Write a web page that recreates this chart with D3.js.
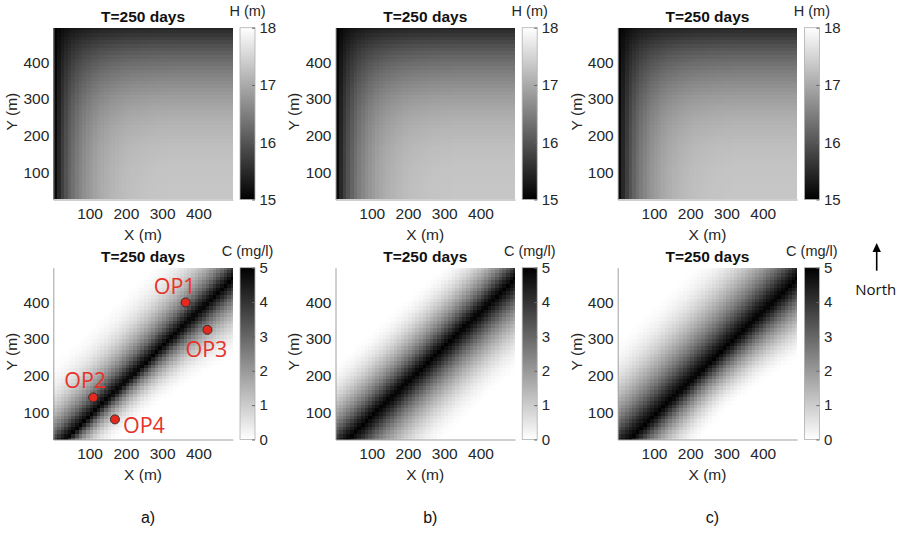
<!DOCTYPE html>
<html>
<head>
<meta charset="utf-8">
<script src="https://cdn.jsdelivr.net/npm/d3@7"></script>
<style>
  body { margin: 0; background: #fff; }
  text { font-family: "Liberation Sans", Arial, sans-serif; }
</style>
</head>
<body>
<svg id="chart" width="905" height="533"></svg>
<script>
const panelLabels = ["a)", "b)", "c)"];
const titleText = "T=250 days";
const xTicks = [100, 200, 300, 400];
const yTicks = [100, 200, 300, 400];
const hTicks = [15, 16, 17, 18];
const cTicks = [0, 1, 2, 3, 4, 5];
const xDomain = [0, 495];
const yDomain = [25, 495];
const hDomain = [15, 18];
const cDomain = [0, 5];
const cell = 10;

// head read along the bottom row, x = 5 ... 495 m
const hBottom = [15.12, 15.47, 15.75, 15.98, 16.17, 16.33, 16.47, 16.58, 16.68, 16.77,
  16.84, 16.91, 16.97, 17.02, 17.06, 17.1, 17.13, 17.16, 17.19, 17.21,
  17.23, 17.25, 17.26, 17.27, 17.28, 17.29, 17.3, 17.31, 17.31, 17.32,
  17.32, 17.32, 17.33, 17.33, 17.33, 17.33, 17.33, 17.33, 17.33, 17.33,
  17.33, 17.33, 17.33, 17.33, 17.33, 17.33, 17.33, 17.33, 17.33, 17.33];
// head read along the right column, y = 495 ... 25 m (top to bottom)
const hRight = [15.45, 15.55, 15.65, 15.75, 15.85, 15.95, 16.04, 16.12, 16.2, 16.27,
  16.34, 16.41, 16.47, 16.53, 16.59, 16.65, 16.7, 16.75, 16.8, 16.85,
  16.89, 16.93, 16.97, 17.01, 17.04, 17.07, 17.1, 17.13, 17.15, 17.17,
  17.19, 17.21, 17.23, 17.25, 17.26, 17.27, 17.28, 17.29, 17.3, 17.31,
  17.31, 17.32, 17.32, 17.33, 17.33, 17.33, 17.33, 17.33];
const hCorner = 17.33;

// plume core: where it leaves the bottom edge and the right edge
const plumeFrom = [33, 25];
const plumeTo = [495, 465];
// stations along the core (0 = bottom-left, 1 = top-right), half widths in m
const stations = [0, 0.2, 0.4, 0.6, 0.8, 1];
const upperWidthA = [175, 175, 175, 178, 180, 182];
const lowerWidthA = [95, 100, 108, 130, 165, 190];
const upperWidthB = [175, 172, 168, 165, 160, 160];
const lowerWidthB = [182, 182, 182, 182, 185, 190];
const upperWidthC = [210, 215, 218, 218, 218, 218];
const lowerWidthC = [130, 135, 125, 140, 165, 185];
// concentration across the plume, from the core (0) to the edge (1) in tenths
const profileA = [5, 4.1, 3.0, 2.2, 1.55, 1.05, 0.65, 0.37, 0.18, 0.06, 0];
const profileB = [5, 4.3, 3.4, 2.6, 1.95, 1.4, 0.92, 0.55, 0.27, 0.09, 0];
const profileC = [5, 4.3, 3.4, 2.6, 1.95, 1.4, 0.92, 0.55, 0.27, 0.09, 0];

const obsNames = ["OP1", "OP2", "OP3", "OP4"];
const obsX = [365, 110, 425, 170];
const obsY = [400, 140, 325, 80];
// label offsets in px from each point
const obsDx = [-11, -8, -1, 29];
const obsDy = [-16, -17, 19, 6];

// layout
const colX = [53.3, 335.5, 617.7];
const rowY = [27.7, 267.7];
const plotW = 179.5, plotH = 171.8;
const cbGap = 186.7, cbW = 15;
const tickColor = "#262626";
const axisColor = "#a0a0a0";
const tickFont = "15.5px";

const svg = d3.select("#chart");
svg.append("rect").attr("width", 905).attr("height", 533).attr("fill", "#fff");

const x = d3.scaleLinear().domain(xDomain).range([0, plotW]);
const y = d3.scaleLinear().domain(yDomain).range([plotH, 0]);
const hColor = d3.scaleLinear().domain(hDomain).range(["#000", "#fff"]).clamp(true);
const cColor = d3.scaleLinear().domain(cDomain).range(["#fff", "#000"]).clamp(true);

const xCenters = d3.range(xDomain[0] + cell / 2, xDomain[1] + 1, cell);
const yCenters = d3.range(yDomain[1], yDomain[0] - 1, -cell);

function cellRect(cx, cy, v) {
  return {
    x0: Math.max(cx - cell / 2, xDomain[0]), x1: Math.min(cx + cell / 2, xDomain[1]),
    y0: Math.max(cy - cell / 2, yDomain[0]), y1: Math.min(cy + cell / 2, yDomain[1]),
    v: v
  };
}

function headField() {
  const cells = [];
  xCenters.forEach((cx, i) => {
    yCenters.forEach((cy, k) => {
      const v = 15 + (hBottom[i] - 15) * (hRight[k] - 15) / (hCorner - 15);
      cells.push(cellRect(cx, cy, v));
    });
  });
  return cells;
}

function plumeField(upper, lower, profile) {
  const dxL = plumeTo[0] - plumeFrom[0], dyL = plumeTo[1] - plumeFrom[1];
  const len = Math.hypot(dxL, dyL);
  const tx = dxL / len, ty = dyL / len;
  const wUp = d3.scaleLinear().domain(stations).range(upper).clamp(true);
  const wLo = d3.scaleLinear().domain(stations).range(lower).clamp(true);
  const prof = d3.scaleLinear().domain(d3.range(profile.length).map(i => i / (profile.length - 1)))
    .range(profile).clamp(true);
  const cells = [];
  xCenters.forEach(cx => {
    yCenters.forEach(cy => {
      const px = cx - plumeFrom[0], py = cy - plumeFrom[1];
      const u = (px * tx + py * ty) / len;
      const v = tx * py - ty * px;
      const w = v >= 0 ? wUp(u) : wLo(u);
      cells.push(cellRect(cx, cy, prof(Math.abs(v) / w)));
    });
  });
  return cells;
}

const defs = svg.append("defs");
function gradient(id, bottom, top) {
  const g = defs.append("linearGradient").attr("id", id)
    .attr("x1", 0).attr("y1", 1).attr("x2", 0).attr("y2", 0);
  g.append("stop").attr("offset", 0).attr("stop-color", bottom);
  g.append("stop").attr("offset", 1).attr("stop-color", top);
}
gradient("gradH", "#000", "#fff");
gradient("gradC", "#fff", "#000");

function styleText(sel) {
  sel.attr("fill", tickColor).style("font-size", tickFont)
    .style("font-family", "'Liberation Sans', Arial, sans-serif");
}

function drawPanel(left, top, cells, color, cbDomain, cbTicks, cbLabel, grad) {
  const g = svg.append("g").attr("transform", `translate(${left},${top})`);

  g.append("g").attr("shape-rendering", "crispEdges")
    .selectAll("rect").data(cells).join("rect")
    .attr("x", d => x(d.x0))
    .attr("y", d => y(d.y1))
    .attr("width", d => x(d.x1) - x(d.x0))
    .attr("height", d => y(d.y0) - y(d.y1))
    .attr("fill", d => color(d.v));

  const xa = g.append("g").attr("transform", `translate(0,${plotH})`)
    .call(d3.axisBottom(x).tickValues(xTicks).tickSize(0).tickPadding(8));
  const ya = g.append("g")
    .call(d3.axisLeft(y).tickValues(yTicks).tickSize(0).tickPadding(4));
  [xa, ya].forEach(a => {
    a.select(".domain").attr("stroke", axisColor);
    styleText(a.selectAll("text"));
  });

  g.append("text").attr("x", plotW / 2).attr("y", -11).attr("dy", "0.35em")
    .attr("text-anchor", "middle").style("font-size", "15.5px").style("font-weight", "bold")
    .attr("fill", "#111").text(titleText);
  g.append("text").attr("x", plotW / 2).attr("y", plotH + 35.5).attr("dy", "0.35em")
    .attr("text-anchor", "middle").style("font-size", "15.5px").attr("fill", tickColor).text("X (m)");
  g.append("text").attr("transform", `translate(-41.6,${plotH / 2 - 2}) rotate(-90)`)
    .attr("dy", "0.35em").attr("text-anchor", "middle").style("font-size", "15.5px")
    .attr("fill", tickColor).text("Y (m)");

  const cb = g.append("g").attr("transform", `translate(${cbGap},0)`);
  cb.append("rect").attr("width", cbW).attr("height", plotH)
    .attr("fill", `url(#${grad})`).attr("stroke", "#b0b0b0").attr("stroke-width", 0.8);
  const cbScale = d3.scaleLinear().domain(cbDomain).range([plotH, 0]);
  const ca = cb.append("g").attr("transform", `translate(${cbW},0)`)
    .call(d3.axisRight(cbScale).tickValues(cbTicks).tickFormat(d3.format("d"))
      .tickSizeInner(-3).tickSizeOuter(0).tickPadding(4.5));
  ca.select(".domain").remove();
  ca.selectAll("line").attr("stroke", "#666");
  styleText(ca.selectAll("text"));
  ca.selectAll("text").style("font-size", "15px");
  cb.append("text").attr("x", cbW / 2).attr("y", -16.5).attr("dy", "0.35em")
    .attr("text-anchor", "middle").style("font-size", "14.5px").attr("fill", tickColor).text(cbLabel);
  return g;
}

const hCells = headField();
const plumes = [
  plumeField(upperWidthA, lowerWidthA, profileA),
  plumeField(upperWidthB, lowerWidthB, profileB),
  plumeField(upperWidthC, lowerWidthC, profileC)
];

colX.forEach((left, p) => {
  drawPanel(left, rowY[0], hCells, hColor, hDomain, hTicks, "H (m)", "gradH");
  const gb = drawPanel(left, rowY[1], plumes[p], cColor, cDomain, cTicks, "C (mg/l)", "gradC");

  if (p === 0) {
    obsNames.forEach((name, i) => {
      gb.append("circle").attr("cx", x(obsX[i])).attr("cy", y(obsY[i])).attr("r", 4.5)
        .attr("fill", "#e5291f").attr("stroke", "#3a2a2a").attr("stroke-width", 1);
      gb.append("text").attr("x", x(obsX[i]) + obsDx[i]).attr("y", y(obsY[i]) + obsDy[i])
        .attr("dy", "0.36em").attr("text-anchor", "middle")
        .style("font-family", "'Open Sans', sans-serif").style("font-size", "21.5px")
        .attr("fill", "#e6332a").text(name);
    });
  }

  svg.append("text").attr("x", left + plotW / 2 + 5).attr("y", 517).attr("dy", "0.35em")
    .attr("text-anchor", "middle").style("font-size", "16px").attr("fill", "#111")
    .text(panelLabels[p]);
});

// north arrow
const north = svg.append("g");
north.append("line").attr("x1", 876.7).attr("x2", 876.7).attr("y1", 270.7).attr("y2", 250)
  .attr("stroke", "#000").attr("stroke-width", 1.6);
north.append("path").attr("d", "M876.7,243 L872.5,252 L880.9,252 Z").attr("fill", "#000");
north.append("text").attr("x", 875.7).attr("y", 289.3).attr("dy", "0.36em")
  .attr("text-anchor", "middle").style("font-family", "'Open Sans', sans-serif")
  .style("font-size", "15px").attr("fill", "#111").text("North");
</script>
</body>
</html>
